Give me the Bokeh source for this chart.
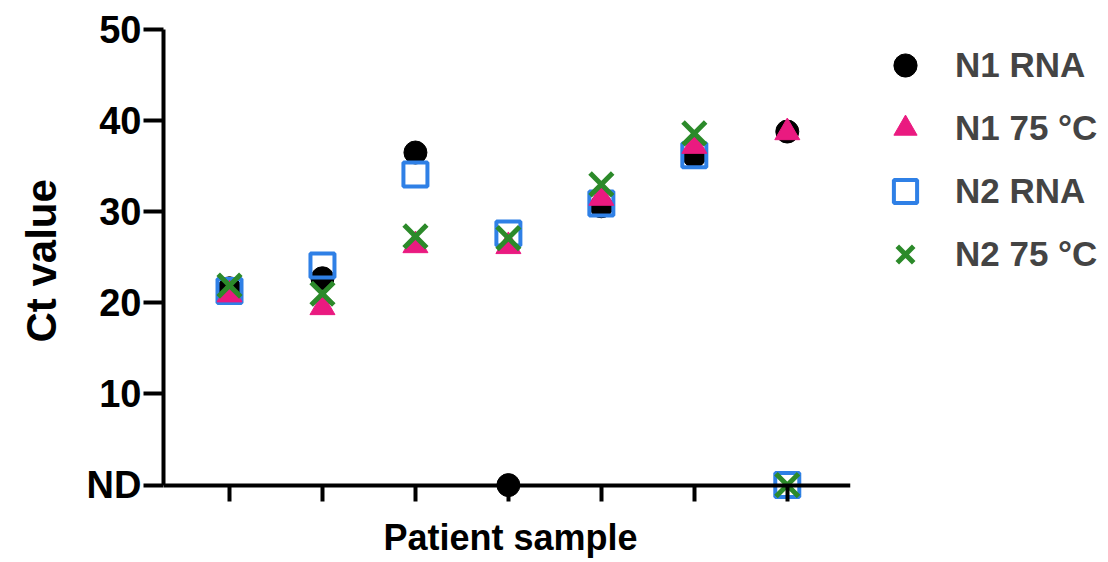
from bokeh.plotting import figure
from bokeh.models import Range1d, FixedTicker, Legend, LegendItem, Title
from bokeh.embed import file_html
from bokeh.resources import INLINE

# ---- data ----
samples = [1, 2, 3, 4, 5, 6, 7]
n1_rna = [21.6, 22.7, 36.5, 0.0, 30.6, 36.1, 38.8]
n1_75c = [20.9, 19.5, 26.3, 26.2, 31.5, 37.2, 38.7]
n2_rna = [21.3, 24.1, 34.1, 27.6, 30.9, 36.2, 0.0]
n2_75c = [21.9, 21.0, 27.3, 27.1, 33.0, 38.6, 0.0]
series_names = ["N1 RNA", "N1 75 \u00b0C", "N2 RNA", "N2 75 \u00b0C"]
y_ticks = [0, 10, 20, 30, 40, 50]
y_tick_labels = ["ND", "10", "20", "30", "40", "50"]
x_label = "Patient sample"
y_label = "Ct value"

FONT = "Liberation Sans"
BLACK = "#000000"
PINK = "#EA1A80"
BLUE = "#2F80E6"
GREEN = "#2C8A2A"

p = figure(
    frame_width=687, frame_height=472,
    x_range=Range1d(0.29, 7.68), y_range=Range1d(-1.8, 50),
    output_backend="svg", toolbar_location=None,
    min_border_left=163, min_border_top=29, min_border_bottom=61,
    min_border_right=250,
)
p.outline_line_color = None
p.xgrid.visible = False
p.ygrid.visible = False
p.background_fill_color = None
p.border_fill_color = "white"

# axes
xa = p.xaxis[0]
xa.fixed_location = 0
xa.ticker = FixedTicker(ticks=samples)
xa.major_label_text_font_size = "0px"
xa.major_label_overrides = {s: "" for s in samples}
xa.minor_tick_line_color = None
xa.major_tick_in = 0
xa.major_tick_out = 22
xa.axis_line_width = 4
xa.major_tick_line_width = 4

ya = p.yaxis[0]
ya.bounds = (0, 50)
ya.ticker = FixedTicker(ticks=y_ticks)
ya.major_label_overrides = {t: l for t, l in zip(y_ticks, y_tick_labels)}
ya.minor_tick_line_color = None
ya.major_tick_in = 0
ya.major_tick_out = 20
ya.axis_line_width = 4
ya.major_tick_line_width = 4
ya.major_label_standoff = 2
ya.major_label_text_font = FONT
ya.major_label_text_font_style = "bold"
ya.major_label_text_font_size = "38px"
ya.major_label_text_color = "black"

# axis titles
p.add_layout(Title(text=x_label, align="left", offset=220, standoff=26,
                   text_font=FONT, text_font_style="bold",
                   text_font_size="36px", text_color="black"), "below")
p.add_layout(Title(text=y_label, align="left", offset=159, standoff=34,
                   vertical_align="top", text_line_height=0.5,
                   text_font=FONT, text_font_style="bold",
                   text_font_size="42px", text_color="black"), "left")

r1 = p.scatter(samples, n1_rna, marker="circle", size=23, fill_color=BLACK, line_color=BLACK)
r3 = p.scatter(samples, n2_rna, marker="square", size=24, fill_color=None, line_color=BLUE, line_width=4)
r2 = p.scatter(samples, n1_75c, marker="triangle", size=25, fill_color=PINK, line_color=PINK, line_width=1)
r4 = p.scatter(samples, n2_75c, marker="x", size=32, line_color=GREEN, line_width=5)

legend = Legend(
    items=[LegendItem(label=series_names[0], renderers=[r1]),
           LegendItem(label=series_names[1], renderers=[r2]),
           LegendItem(label=series_names[2], renderers=[r3]),
           LegendItem(label=series_names[3], renderers=[r4])],
    location="top_left",
    margin=7, padding=0, spacing=5,
    glyph_width=96, glyph_height=58, label_height=58,
    label_standoff=2,
    label_text_font=FONT, label_text_font_style="bold",
    label_text_font_size="35px",
    border_line_color=None, background_fill_color=None,
)
p.add_layout(legend, "right")

open("out.html", "w").write(file_html(p, INLINE))
